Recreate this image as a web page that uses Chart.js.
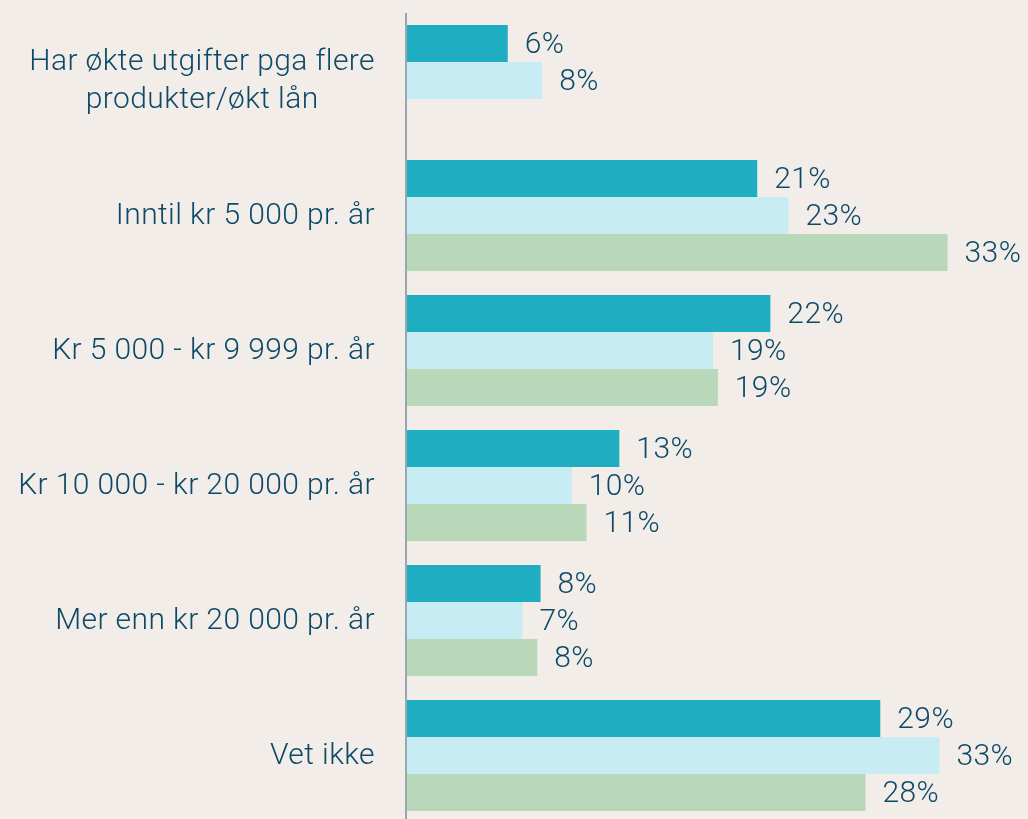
<!DOCTYPE html>
<html>
<head>
<meta charset="utf-8">
<script src="https://cdn.jsdelivr.net/npm/chart.js@4/dist/chart.umd.min.js"></script>
<style>
  html, body { margin: 0; padding: 0; background: #f2ede9; overflow: hidden; }
  #wrap { width: 1028px; height: 823px; }
</style>
</head>
<body>
<div id="wrap"><canvas id="bars"></canvas></div>
<script>
const categories = [
  ['Har økte utgifter pga flere', 'produkter/økt lån'],
  'Inntil kr 5 000 pr. år',
  'Kr 5 000 - kr 9 999 pr. år',
  'Kr 10 000 - kr 20 000 pr. år',
  'Mer enn kr 20 000 pr. år',
  'Vet ikke'
]
// values; labels show them rounded
const series1 = [6.2, 21.4, 22.2, 13.0, 8.2, 28.9]
const series2 = [8.3, 23.3, 18.7, 10.1, 7.1, 32.5]
const series3 = [null, 33.0, 19.0, 11.0, 8.0, 28.0]

const textColor = '#0d4a68'
const labelFont = '300 30px Roboto, "Noto Sans", sans-serif'

const labelsPlugin = {
  id: 'labels',
  afterDatasetsDraw(chart) {
    const ctx = chart.ctx
    const area = chart.chartArea
    const y = chart.scales.y
    ctx.save()
    // axis line
    ctx.strokeStyle = '#9aa6b2'
    ctx.lineWidth = 2
    ctx.beginPath()
    ctx.moveTo(area.left, 13)
    ctx.lineTo(area.left, chart.height)
    ctx.stroke()

    ctx.fillStyle = textColor
    ctx.font = labelFont
    ctx.letterSpacing = '0.4px'
    ctx.textBaseline = 'middle'
    // category labels
    categories.forEach((c, i) => {
      const cy = y.getPixelForValue(i) + 1
      if (Array.isArray(c)) {
        const widths = c.map(l => ctx.measureText(l).width)
        const maxW = Math.max(...widths)
        const centerX = area.left - 31 - maxW / 2
        ctx.textAlign = 'center'
        c.forEach((l, j) => {
          ctx.fillText(l, centerX, cy + (j - (c.length - 1) / 2) * 38)
        })
      } else {
        ctx.textAlign = 'right'
        ctx.fillText(c, area.left - 31, cy)
      }
    })
    // value labels
    ctx.textAlign = 'left'
    chart.data.datasets.forEach((ds, di) => {
      const meta = chart.getDatasetMeta(di)
      meta.data.forEach((bar, i) => {
        if (ds.data[i] == null) return
        ctx.fillText(Math.round(ds.data[i]) + '%', bar.x + 17, bar.y + 2)
      })
    })
    ctx.restore()
  }
}

new Chart(document.getElementById('bars'), {
  type: 'bar',
  data: {
    labels: categories,
    datasets: [
      { label: '1', data: series1, backgroundColor: '#1eadc1' },
      { label: '2', data: series2, backgroundColor: '#c7ecf4' },
      { label: '3', data: series3, backgroundColor: '#b9d7b9' }
    ]
  },
  options: {
    indexAxis: 'y',
    responsive: true,
    maintainAspectRatio: false,
    animation: false,
    layout: { padding: { left: 406, top: 13, bottom: 0, right: 0 } },
    datasets: { bar: { categoryPercentage: 0.822, barPercentage: 1 } },
    scales: {
      x: { display: false, min: 0, max: 37.9 },
      y: { display: false }
    },
    plugins: {
      legend: { display: false },
      tooltip: { enabled: false }
    }
  },
  plugins: [labelsPlugin]
})
</script>
</body>
</html>
